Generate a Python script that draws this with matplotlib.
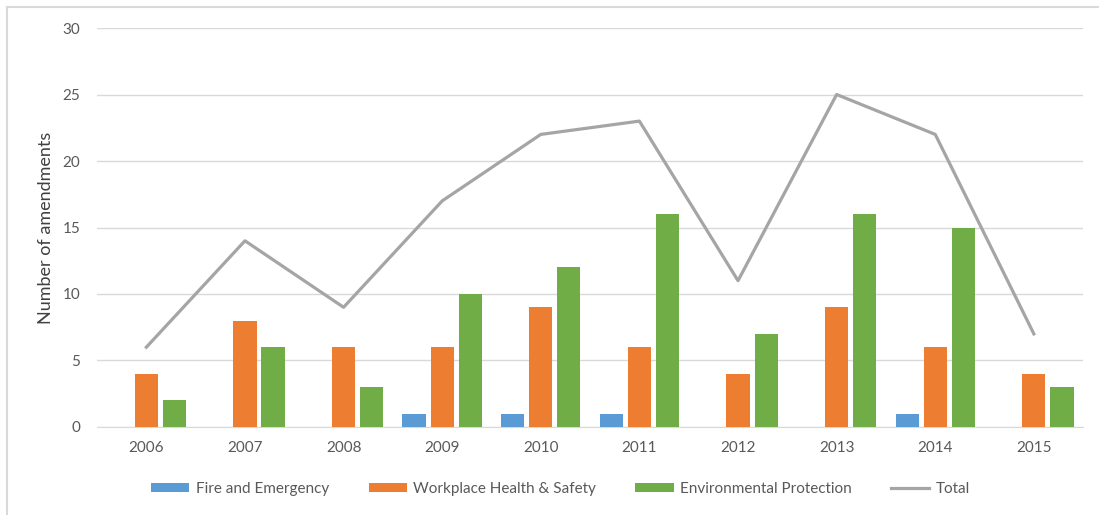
import numpy as np
import matplotlib
matplotlib.use('Agg')
from matplotlib import pyplot as plt
from matplotlib.lines import Line2D

years = ['2006', '2007', '2008', '2009', '2010', '2011', '2012', '2013', '2014', '2015']
fire = [0, 0, 0, 1, 1, 1, 0, 0, 1, 0]
workplace = [4, 8, 6, 6, 9, 6, 4, 9, 6, 4]
environment = [2, 6, 3, 10, 12, 16, 7, 16, 15, 3]
total = [6, 14, 9, 17, 22, 23, 11, 25, 22, 7]

plt.rcParams['font.family'] = ['Lato', 'DejaVu Sans']

text_col = '#595959'
fig = plt.figure(figsize=(10.99, 5.15), dpi=100)
ax = fig.add_axes([0.0883, 0.1709, 0.8973, 0.7747])

x = np.arange(len(years))
w = 0.235
step = 0.285
b1 = ax.bar(x - step, fire, w, color='#5b9bd5', label='Fire and Emergency', zorder=3)
b2 = ax.bar(x, workplace, w, color='#ed7d31', label='Workplace Health & Safety', zorder=3)
b3 = ax.bar(x + step, environment, w, color='#70ad47', label='Environmental Protection', zorder=3)
l1, = ax.plot(x, total, color='#a5a5a5', lw=2.3, label='Total', zorder=4)

ax.set_xlim(-0.5, len(years) - 0.5)
ax.set_ylim(0, 30)
ax.set_yticks(range(0, 31, 5))
ax.set_xticks(x)
ax.set_xticklabels(years)
ax.yaxis.grid(True, color='#d9d9d9', lw=1, zorder=0)
ax.tick_params(length=0, labelsize=11, labelcolor=text_col)
ax.tick_params(axis='y', pad=12)
ax.tick_params(axis='x', pad=10)
for s in ['top', 'right', 'left']:
    ax.spines[s].set_visible(False)
ax.spines['bottom'].set_color('#d9d9d9')
ax.set_ylabel('Number of amendments', fontsize=13, color='#404040', labelpad=6)

leg = fig.legend([b1, b2, b3, l1],
                 ['Fire and Emergency', 'Workplace Health & Safety', 'Environmental Protection', 'Total'],
                 loc='center', bbox_to_anchor=(0.51, 0.05), ncol=4,
                 frameon=False, fontsize=11, handlelength=2.5, handleheight=0.5,
                 columnspacing=2.6, handletextpad=0.4)
for t in leg.get_texts():
    t.set_color(text_col)

# chart border (only top and left visible in the reference crop)
fig.add_artist(Line2D([7 / 1099, 7 / 1099], [0, 1 - 6.5 / 515], color='#d9d9d9', lw=1.5,
                      transform=fig.transFigure))
fig.add_artist(Line2D([7 / 1099, 1], [1 - 6.5 / 515, 1 - 6.5 / 515], color='#d9d9d9', lw=1.5,
                      transform=fig.transFigure))

fig.savefig('out.png', dpi=100)
